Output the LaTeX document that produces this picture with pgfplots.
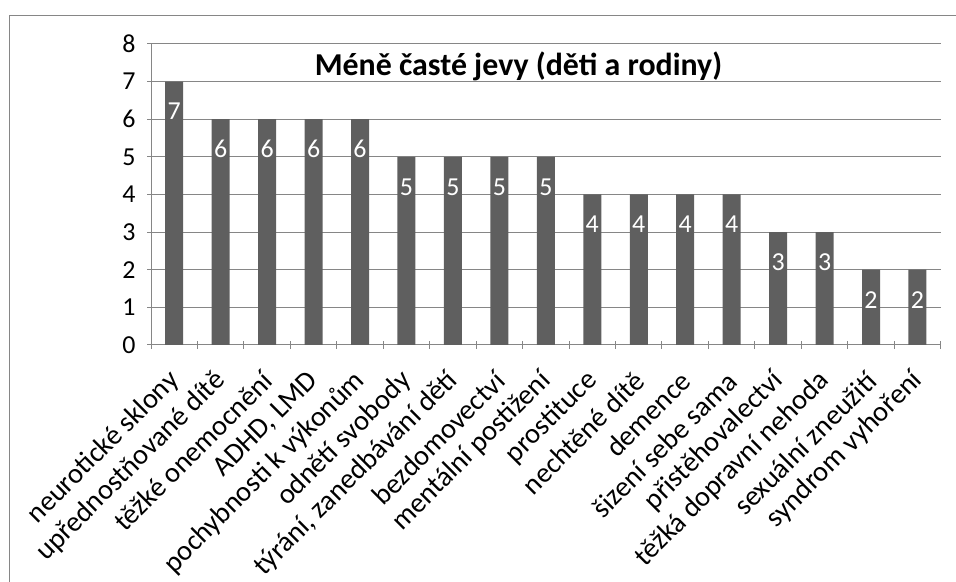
\documentclass[border=0pt]{standalone}
\usepackage{pgfplots}
\pgfplotsset{compat=1.18}
\usepackage{fontspec}
\setmainfont{Carlito}
\definecolor{barc}{HTML}{5F5F5F}
\definecolor{gridc}{HTML}{868686}
\begin{document}
\begin{tikzpicture}[x=1bp,y=1bp]
\useasboundingbox (0,0) rectangle (956,582);
\draw[gridc, line width=1bp] (9.5,-5) -- (9.5,566.7) -- (970,566.7);
\begin{axis}[
  at={(151bp,237bp)}, anchor=south west,
  scale only axis, width=789.7bp, height=301bp,
  ybar, bar width=18bp, bar shift=0pt,
  xmin=-0.5, xmax=16.5, ymin=0, ymax=8,
  ytick={0,...,8},
  yticklabels={{0\kern8bp},{1\kern8bp},{2\kern8bp},{3\kern8bp},{4\kern8bp},{5\kern8bp},{6\kern8bp},{7\kern8bp},{8\kern8bp}},
  xtick={0,...,16},
  xticklabels={neurotické sklony, upřednostňované dítě, těžké onemocnění, {ADHD, LMD}, pochybnosti k výkonům, odnětí svobody, {týrání, zanedbávání dětí}, bezdomovectví, mentální postižení, prostituce, nechtěné dítě, demence, šizení sebe sama, přistěhovalectví, těžká dopravní nehoda, sexuální zneužití, syndrom vyhoření},
  minor xtick={-0.5,0.5,...,16.5},
  major x tick style={draw=none},
  minor tick length=8bp, major tick length=8bp,
  tick align=outside,
  tick style={gridc, line width=1bp},
  axis x line=bottom, axis y line=left,
  axis line style={-, gridc, line width=1bp},
  ymajorgrids, grid style={gridc, line width=1bp},
  /pgf/number format/assume math mode=true,
  yticklabel style={font=\fontsize{26}{30}\selectfont, anchor=east},
  xticklabel style={font=\fontsize{28.5}{33}\selectfont, xshift=3bp, yshift=-25bp, rotate=45, anchor=east},
  nodes near coords,
  every node near coord/.append style={font=\fontsize{26}{30}\selectfont, text=white, anchor=center, yshift=-30bp},
]
\addplot[fill=barc, draw=none] coordinates {
(0,7) (1,6) (2,6) (3,6) (4,6) (5,5) (6,5) (7,5) (8,5) (9,4) (10,4) (11,4) (12,4) (13,3) (14,3) (15,2) (16,2)
};
\end{axis}
\node[font=\bfseries\fontsize{32}{38}\selectfont] at (518.5,516) {Méně časté jevy (děti a rodiny)};
\end{tikzpicture}
\end{document}
